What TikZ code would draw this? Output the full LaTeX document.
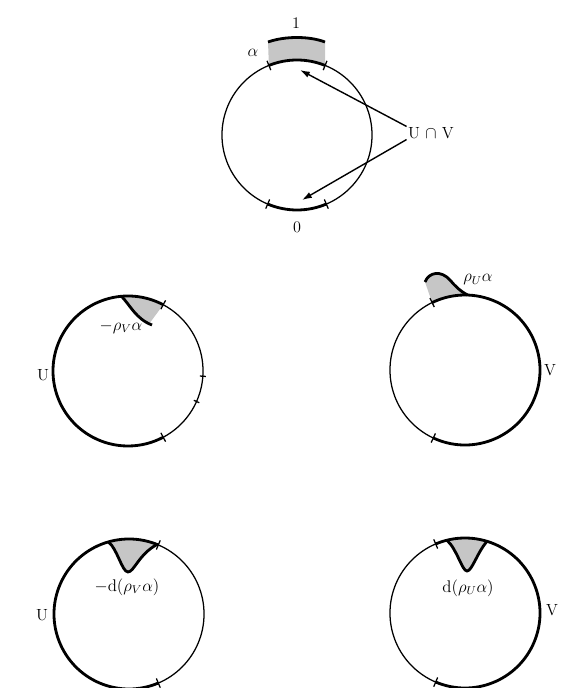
\documentclass[tikz,border=0pt]{standalone}
\usetikzlibrary{arrows.meta}
\begin{document}
\begin{tikzpicture}[x=0.025cm, y=0.025cm,
  rim/.style={line width=0.9pt},
  heavy/.style={line width=2pt},
  tickmark/.style={line width=0.9pt},
  stipple/.style={fill=gray!45},
  pointer/.style={-{Latex[length=7pt, width=4.5pt]}, line width=1pt},
  lbl/.style={font=\fontsize{11.5}{13}\selectfont, inner sep=1pt}]
  \useasboundingbox (0,0) rectangle (578,-688);

  \begin{scope}[shift={(297,-135)}]
    \node[draw, circle, rim, minimum size=3.75cm, inner sep=0] (cuv) at (0,0) {};
    \fill[stipple] (112:75) arc[start angle=112, end angle=68, radius=75] -- (28,93) .. controls (12,99) and (-12,99) .. (-29,93) -- cycle;
    \draw[heavy] (-29,93) .. controls (-12,99) and (12,99) .. (28,93);
    \draw[heavy] (68:75) arc[start angle=68, end angle=112, radius=75];
    \draw[heavy] (247:75) arc[start angle=247, end angle=293, radius=75];
    \foreach \a in {68,112,247,293}
      \draw[tickmark] (\a:70) -- (\a:80);
    \node[lbl] (one) at (-1,112) {1};
    \node[lbl] (alpha) at (-44,82) {$\alpha$};
    \node[lbl] (zero) at (0,-92) {0};
    \node[lbl] (uv) at (134,2) {U $\cap$ V};
    \coordinate (tipA) at (3,65);
    \coordinate (tipB) at (5,-65);
    \draw[pointer] (uv.165) -- (tipA);
    \draw[pointer] (uv.195) -- (tipB);
  \end{scope}

  \begin{scope}[shift={(128,-371)}]
    \node[draw, circle, rim, minimum size=3.75cm, inner sep=0] (cu1) at (0,0) {};
    \fill[stipple] (95:75) arc[start angle=95, end angle=62, radius=75] -- (21,47) .. controls (8,52) and (2,66) .. (95:75) -- cycle;
    \draw[heavy] (95:75) .. controls (2,66) and (8,52) .. (24,46);
    \draw[heavy] (62:75) arc[start angle=62, end angle=298, radius=75];
    \foreach \a in {62,298}
      \draw[tickmark] (\a:70) -- (\a:80);
    \foreach \a in {-4,-24}
      \draw[tickmark] (\a:72) -- (\a:78);
    \node[lbl] (rhov) at (-7,44) {$-\rho_V\alpha$};
    \node[lbl] (labu1) at (-85,-4) {U};
  \end{scope}

  \begin{scope}[shift={(465,-370)}]
    \node[draw, circle, rim, minimum size=3.75cm, inner sep=0] (cv1) at (0,0) {};
    \fill[stipple] (116:75) arc[start angle=116, end angle=88, radius=75] .. controls (-5,79) and (-10,84) .. (-15,90) .. controls (-24,100) and (-36,98) .. (-40,88) -- cycle;
    \draw[heavy] (-40,88) .. controls (-36,98) and (-24,100) .. (-15,90) .. controls (-10,84) and (-5,79) .. (88:75);
    \draw[heavy] (-115:75) arc[start angle=-115, end angle=116, radius=75];
    \foreach \a in {116,245}
      \draw[tickmark] (\a:70) -- (\a:80);
    \node[lbl] (rhou) at (13,90) {$\rho_U\alpha$};
    \node[lbl] (labv1) at (85,0) {V};
  \end{scope}

  \begin{scope}[shift={(129,-614)}]
    \node[draw, circle, rim, minimum size=3.75cm, inner sep=0] (cu2) at (0,0) {};
    \fill[stipple] (106:75) arc[start angle=106, end angle=68, radius=75] .. controls (10,60) and (5,42) .. (-1,42) .. controls (-7,42) and (-12,66) .. (106:75) -- cycle;
    \draw[heavy] (106:75) .. controls (-12,66) and (-7,42) .. (-1,42) .. controls (5,42) and (10,60) .. (68:75);
    \draw[heavy] (67:75) arc[start angle=67, end angle=293, radius=75];
    \foreach \a in {67,293}
      \draw[tickmark] (\a:70) -- (\a:80);
    \node[lbl] (drhov) at (-2,27) {$-\mathrm{d}(\rho_V\alpha)$};
    \node[lbl] (labu2) at (-87,-1) {U};
  \end{scope}

  \begin{scope}[shift={(465,-613)}]
    \node[draw, circle, rim, minimum size=3.75cm, inner sep=0] (cv2) at (0,0) {};
    \fill[stipple] (104:75) arc[start angle=104, end angle=73, radius=75] .. controls (12,60) and (7,42) .. (2,42) .. controls (-3,42) and (-8,64) .. (104:75) -- cycle;
    \draw[heavy] (104:75) .. controls (-8,64) and (-3,42) .. (2,42) .. controls (7,42) and (12,60) .. (73:75);
    \draw[heavy] (-113:75) arc[start angle=-113, end angle=113, radius=75];
    \foreach \a in {113,247}
      \draw[tickmark] (\a:70) -- (\a:80);
    \node[lbl] (drhou) at (3,25) {$\mathrm{d}(\rho_U\alpha)$};
    \node[lbl] (labv2) at (87,3) {V};
  \end{scope}
\end{tikzpicture}
\end{document}
